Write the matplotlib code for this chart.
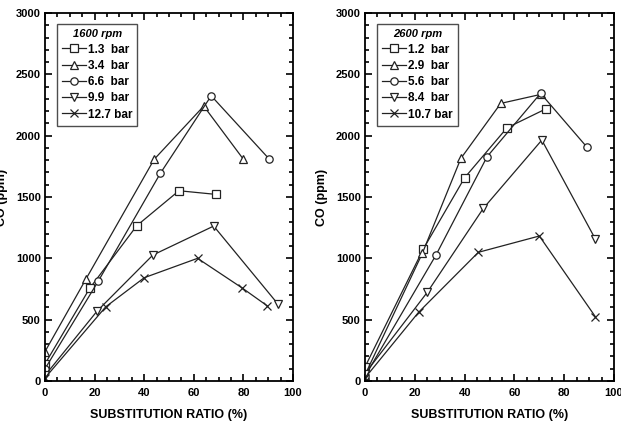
import matplotlib
matplotlib.use("Agg")
import matplotlib.pyplot as plt
from matplotlib.ticker import MultipleLocator

plt.rcParams['font.family'] = ['Liberation Sans', 'DejaVu Sans']
plt.rcParams['font.weight'] = 'bold'

# 1600 rpm
l_labels = ["1.3  bar", "3.4  bar", "6.6  bar", "9.9  bar", "12.7 bar"]
l_x = [
    [0, 18, 37, 54, 69],
    [0, 16.5, 44, 64, 80],
    [0, 21.5, 46.5, 67, 90.5],
    [0, 21, 43.5, 68, 94],
    [0, 24.5, 40, 61.5, 79.5, 89.5],
]
l_y = [
    [140, 755, 1266, 1551, 1521],
    [240, 831, 1807, 2241, 1807],
    [100, 815, 1693, 2325, 1807],
    [45, 570, 1027, 1263, 625],
    [25, 605, 842, 1000, 758, 614],
]

# 2600 rpm
r_labels = ["1.2  bar", "2.9  bar", "5.6  bar", "8.4  bar", "10.7 bar"]
r_x = [
    [0, 23.4, 40, 57, 72.5],
    [0, 23, 38.5, 54.5, 70.5],
    [0, 28.5, 49, 70.5, 89],
    [0, 25, 47.5, 71, 92.5],
    [0, 21.5, 45.5, 70, 92.5],
]
r_y = [
    [115, 1076, 1657, 2064, 2217],
    [50, 1040, 1815, 2263, 2336],
    [40, 1027, 1828, 2345, 1909],
    [60, 723, 1407, 1964, 1157],
    [25, 560, 1049, 1182, 524],
]

markers = ['s', '^', 'o', 'v', 'x']

fig = plt.figure(figsize=(6.21, 4.23), dpi=100)
ax1 = fig.add_axes([0.0725, 0.0993, 0.3994, 0.870])
ax2 = fig.add_axes([0.5878, 0.0993, 0.4010, 0.870])

def draw(ax, xs, ys, labels, title):
    for x, y, m, lab in zip(xs, ys, markers, labels):
        ax.plot(x, y, color='#222222', lw=0.9, marker=m, markersize=5.3,
                markerfacecolor='white', markeredgecolor='#222222', markeredgewidth=0.9,
                label=lab)
    ax.set_xlim(0, 100)
    ax.set_ylim(0, 3000)
    ax.xaxis.set_major_locator(MultipleLocator(20))
    ax.xaxis.set_minor_locator(MultipleLocator(5))
    ax.yaxis.set_major_locator(MultipleLocator(500))
    ax.yaxis.set_minor_locator(MultipleLocator(100))
    ax.tick_params(which='both', direction='in', top=True, right=True, width=1.2)
    ax.tick_params(which='major', length=5, labelsize=8, pad=3)
    ax.tick_params(axis='x', which='major', pad=5)
    ax.tick_params(which='minor', length=3)
    for s in ax.spines.values():
        s.set_linewidth(1.3)
    ax.set_xlabel("SUBSTITUTION RATIO (%)", fontsize=9, fontweight='bold', labelpad=8)
    ax.set_ylabel("CO (ppm)", fontsize=9, fontweight='bold', labelpad=6)
    leg = ax.legend(loc='upper left', bbox_to_anchor=(0.048, 0.970), borderaxespad=0,
                    frameon=True, fancybox=False,
                    edgecolor='#222222', title=title, handlelength=2.0,
                    handletextpad=0.15, borderpad=0.45, labelspacing=0.36,
                    prop={'weight': 'bold', 'size': 8.5})
    leg.get_frame().set_linewidth(1.0)
    leg.get_title().set_fontsize(8)
    leg.get_title().set_fontstyle('italic')
    leg.get_title().set_fontweight('bold')

draw(ax1, l_x, l_y, l_labels, "1600 rpm")
draw(ax2, r_x, r_y, r_labels, "2600 rpm")

fig.savefig("out.png", dpi=100)
